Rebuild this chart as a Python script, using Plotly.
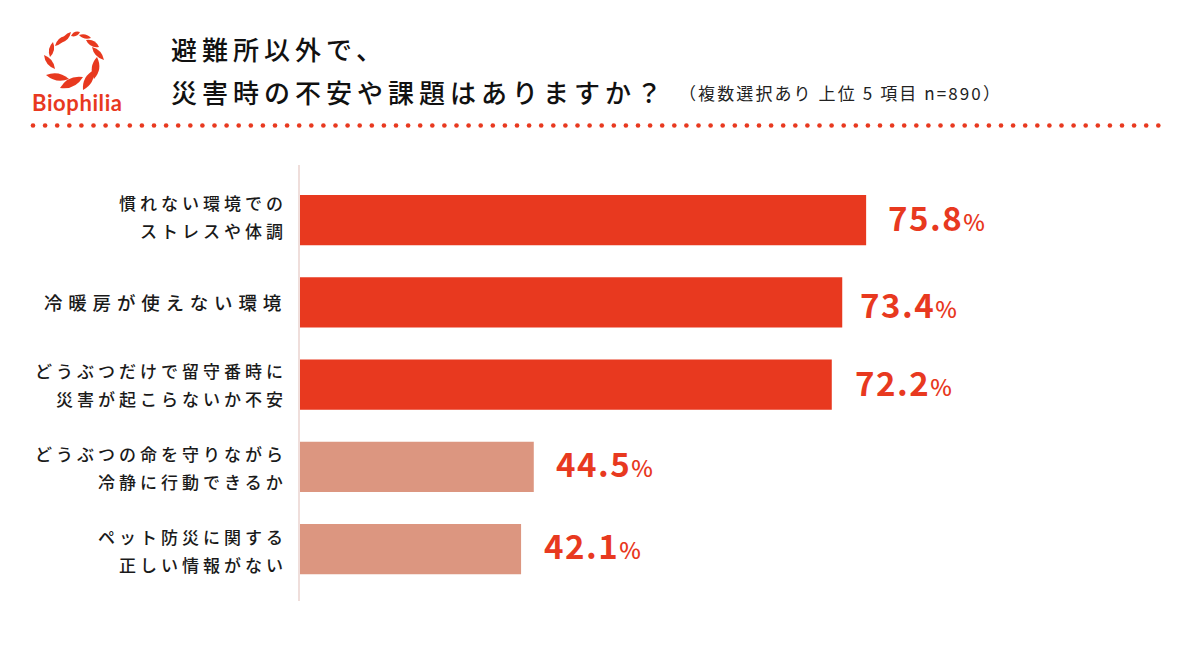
import plotly.graph_objects as go

# chart data
categories = [
    "慣れない環境での\nストレスや体調",
    "冷暖房が使えない環境",
    "どうぶつだけで留守番時に\n災害が起こらないか不安",
    "どうぶつの命を守りながら\n冷静に行動できるか",
    "ペット防災に関する\n正しい情報がない",
]
percent_labels = [75.8, 73.4, 72.2, 44.5, 42.1]
# the bars are not drawn in proportion to their labels, so lengths are read separately
bar_lengths = [75.8, 72.6, 71.2, 31.3, 29.6]
bar_colors = ["#E8391F", "#E8391F", "#E8391F", "#DC9680", "#DC9680"]
label_gaps = [20, 16, 21, 20, 21]
label_rises = [3, -2, 3, 4, 4]
cat_rises = [5, 1, 1.5, 0, 0]
cat_sizes = [17, 18.5, 17, 17, 17]
cat_spacing = [4, 5.8, 4, 4, 4]

title_lines = ["避難所以外で、", "災害時の不安や課題はありますか？"]
subtitle = "（複数選択あり 上位 5 項目 n=890）"
logo_text = "Biophilia"

RED = "#E8391F"
JP_FONT = "Noto Sans CJK JP"
W, H = 1200, 654

# logo leaves: tip to tip in page pixels, plus width
logo_leaves = [
    (61, 43, 71, 32, 4.5), (71, 36, 80, 32, 4), (79, 35, 91, 38, 4),
    (86, 40, 99, 47, 5.5), (92, 47, 104, 60, 5.5), (97, 57, 94, 79, 7.5),
    (94, 70, 83, 90, 7.5), (60, 88, 83, 77, 8.5), (46, 75, 69, 79, 7),
    (44, 55, 55, 69, 5.5), (50, 57, 53, 42, 5), (55, 46, 65, 36, 4.5),
]


def spaced(text, px):
    return f'<span style="letter-spacing:{px}px">{text}</span>'


def leaf_path(x0, y0, x1, y1, w):
    mx, my = (x0 + x1) / 2, (y0 + y1) / 2
    dx, dy = x1 - x0, y1 - y0
    size = (dx ** 2 + dy ** 2) ** 0.5
    nx, ny = -dy / size * w, dx / size * w
    return (f"M{x0},{y0} Q{mx + nx},{my + ny} {x1},{y1} "
            f"Q{mx - nx},{my - ny} {x0},{y0} Z")


fig = go.Figure()

fig.add_trace(go.Bar(
    x=bar_lengths,
    y=list(range(len(categories))),
    orientation="h",
    marker=dict(color=bar_colors, line=dict(width=0)),
    width=0.61,
    hoverinfo="skip",
    showlegend=False,
))

# dotted rule under the header
dot_x = [33 + i * 12.1 for i in range(94)]
fig.add_trace(go.Scatter(
    x=dot_x,
    y=[125.5] * len(dot_x),
    xaxis="x2",
    yaxis="y2",
    mode="markers",
    marker=dict(color=RED, size=4.6),
    hoverinfo="skip",
    showlegend=False,
))

annotations = []

# category labels, one annotation per line for the wide line spacing
for i, cat in enumerate(categories):
    lines = cat.split("\n")
    for j, line in enumerate(lines):
        annotations.append(dict(
            x=0, y=i, xref="x", yref="y",
            xshift=-11, yshift=(len(lines) - 1) * 14 - j * 28 - 1 + cat_rises[i],
            text=spaced(line, cat_spacing[i]), showarrow=False,
            xanchor="right", yanchor="middle",
            font=dict(family=JP_FONT, size=cat_sizes[i], color="#1a1a1a", weight=500),
        ))

# value labels
for i, (val, length, gap, rise) in enumerate(zip(percent_labels, bar_lengths, label_gaps, label_rises)):
    annotations.append(dict(
        x=length, y=i, xref="x", yref="y",
        xshift=gap, yshift=rise,
        text=spaced(f'{val}<span style="font-size:23px;font-weight:500">%</span>', 1.5),
        showarrow=False, xanchor="left", yanchor="middle",
        font=dict(family=JP_FONT, size=33, color=RED, weight=700),
    ))

# header text
for line, ty in zip(title_lines, [48, 91]):
    annotations.append(dict(
        x=169, y=ty, xref="x2", yref="y2",
        text=spaced(line, 5), showarrow=False,
        xanchor="left", yanchor="middle",
        font=dict(family=JP_FONT, size=26, color="#111111", weight=500),
    ))
annotations.append(dict(
    x=677, y=92, xref="x2", yref="y2",
    text=spaced(subtitle, 2.1), showarrow=False,
    xanchor="left", yanchor="middle",
    font=dict(family=JP_FONT, size=17, color="#222222"),
))
annotations.append(dict(
    x=30, y=102, xref="x2", yref="y2",
    text=spaced(logo_text, 0.6), showarrow=False,
    xanchor="left", yanchor="middle",
    font=dict(family="Lato", size=22, color=RED, weight=700),
))

shapes = [
    dict(type="path", xref="x2", yref="y2", path=leaf_path(*leaf),
         fillcolor=RED, line=dict(width=0))
    for leaf in logo_leaves
]

fig.update_layout(
    width=W,
    height=H,
    margin=dict(l=0, r=0, t=0, b=0),
    paper_bgcolor="white",
    plot_bgcolor="rgba(0,0,0,0)",
    showlegend=False,
    annotations=annotations,
    shapes=shapes,
    xaxis=dict(
        domain=[300 / W, 1],
        range=[0, 120.5],
        visible=False,
        fixedrange=True,
    ),
    yaxis=dict(
        domain=[1 - 601 / H, 1 - 165 / H],
        range=[4.63, -0.67],
        showticklabels=False,
        ticks="",
        showgrid=False,
        zeroline=False,
        showline=True,
        linecolor="#EFDEDB",
        linewidth=2,
        fixedrange=True,
    ),
    xaxis2=dict(domain=[0, 1], range=[0, W], visible=False, anchor="y2", fixedrange=True),
    yaxis2=dict(domain=[0, 1], range=[H, 0], visible=False, anchor="x2", fixedrange=True),
)

fig.write_html("out.html", config=dict(displayModeBar=False),
               post_script="document.body.style.margin='0';")
